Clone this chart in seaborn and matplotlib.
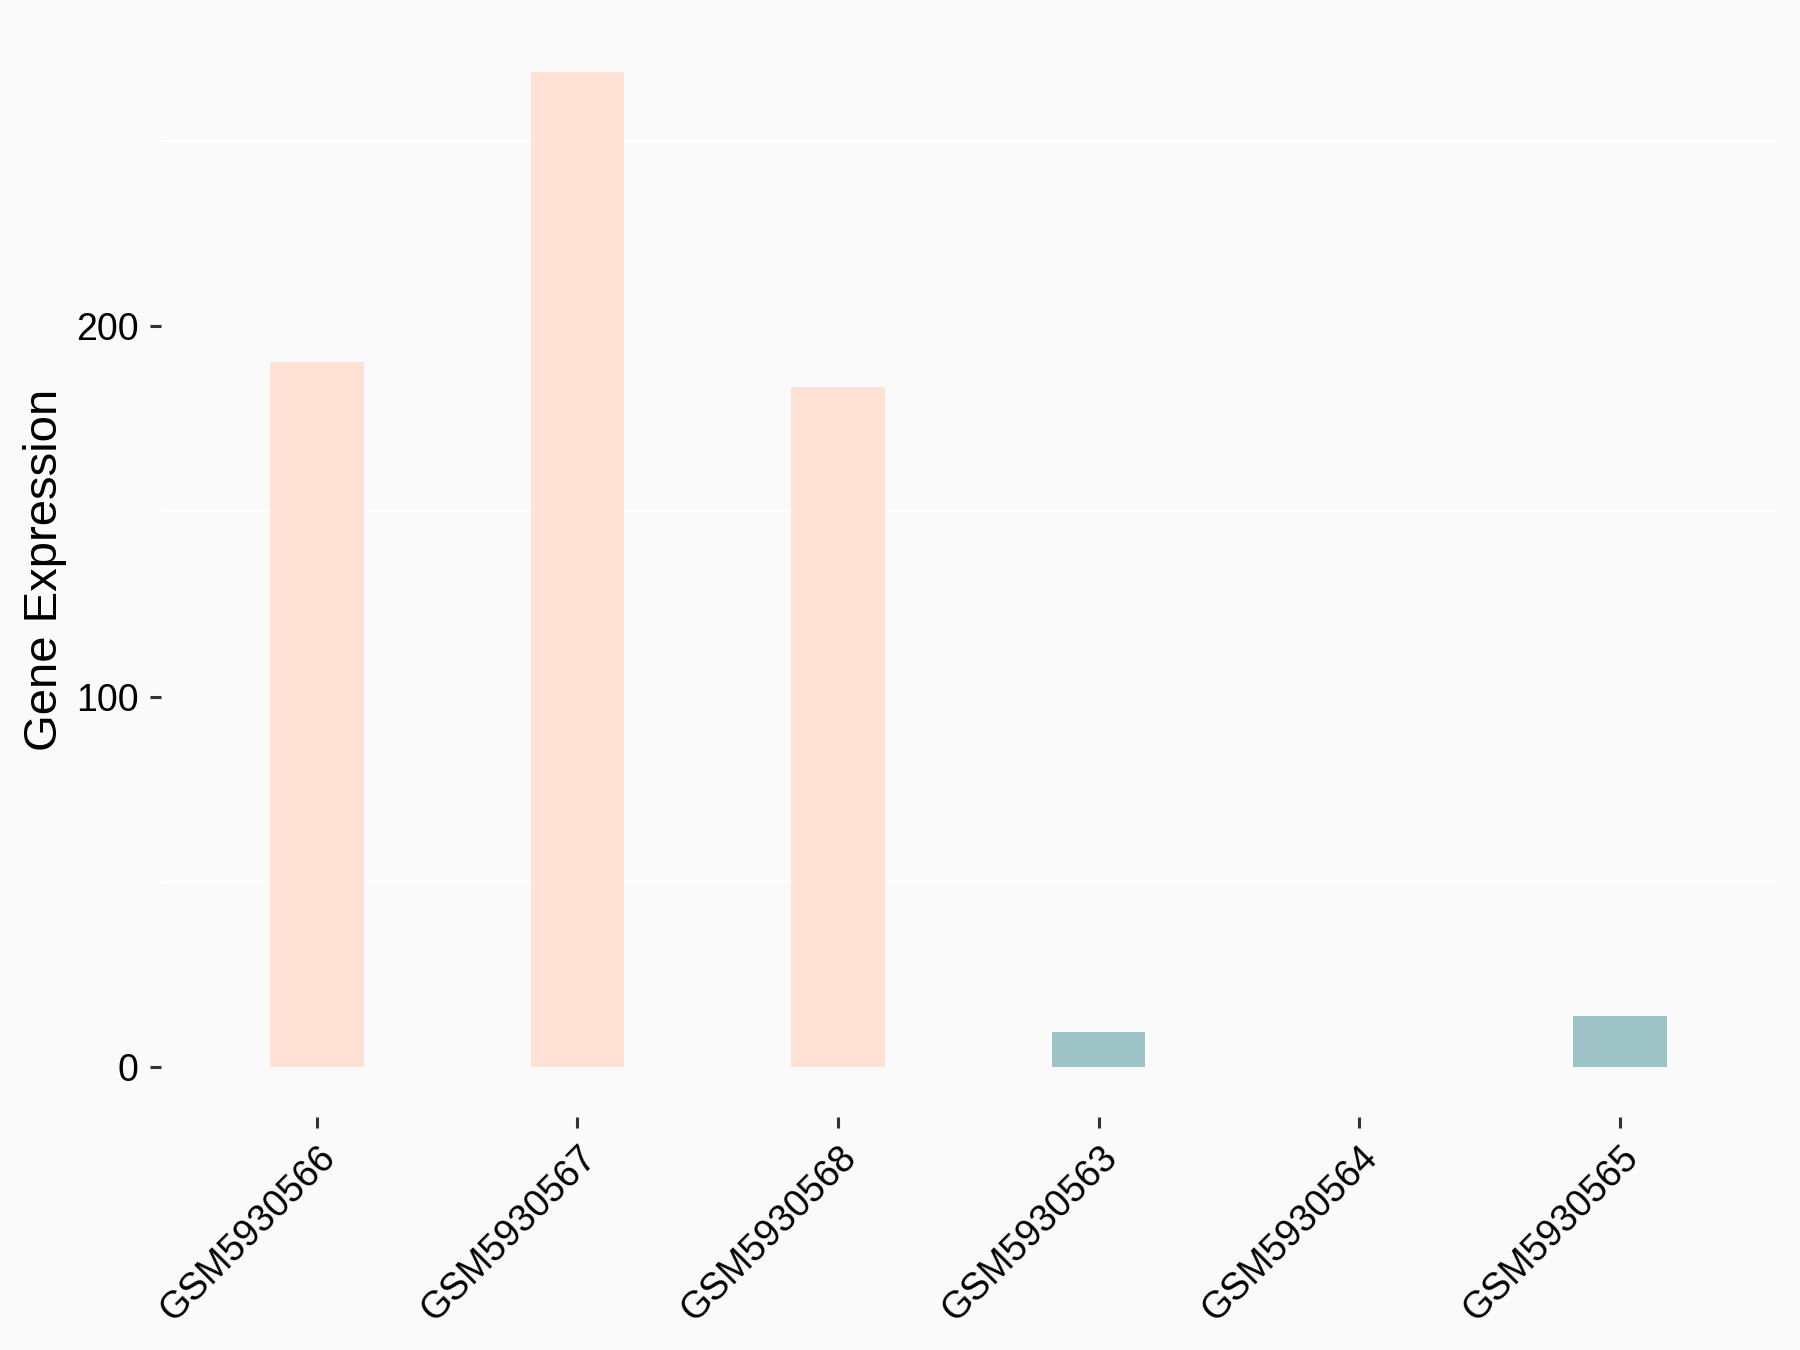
import matplotlib
matplotlib.use("Agg")
import matplotlib.pyplot as plt
import seaborn as sns
import pandas as pd
from matplotlib.ticker import MultipleLocator

samples = ["GSM5930566", "GSM5930567", "GSM5930568",
           "GSM5930563", "GSM5930564", "GSM5930565"]
expression = [190.4, 268.4, 183.6, 9.6, 0.0, 13.9]
groups = ["Treated", "Treated", "Treated", "Control", "Control", "Control"]
group_colors = {"Treated": "#FFE1D6", "Control": "#9DC3C7"}

df = pd.DataFrame({"sample": samples, "expr": expression, "group": groups})

sns.set_theme(style="white")
plt.rcParams["font.family"] = ["Liberation Sans", "DejaVu Sans"]
bg = "#FAFAFA"

fig = plt.figure(figsize=(18, 13.5), dpi=100, facecolor=bg)
ax = fig.add_axes([0.0892, 0.1726, 0.8975, 0.8106])
ax.set_facecolor(bg)

sns.barplot(data=df, x="sample", y="expr", hue="group", palette=group_colors,
            order=samples, dodge=False, width=0.36, legend=False,
            saturation=1, linewidth=0, ax=ax)

ymax = max(expression)
ax.set_ylim(-0.05 * ymax, 1.05 * ymax)
ax.set_xlim(-0.6, len(samples) - 0.4)
ax.yaxis.set_major_locator(MultipleLocator(100))
ax.yaxis.set_minor_locator(MultipleLocator(50))
ax.grid(False)
ax.grid(which="minor", axis="y", color="white", linewidth=1.6)
ax.set_axisbelow(True)
ax.yaxis.set_minor_formatter(plt.NullFormatter())
ax.tick_params(axis="y", which="minor", length=0)

for s in ax.spines.values():
    s.set_visible(False)

ax.tick_params(axis="both", which="major", direction="out", length=8,
               width=2.2, color="#333333", labelsize=27, labelcolor="black",
               pad=8, left=True, bottom=True)
plt.setp(ax.get_xticklabels(), rotation=45, ha="right", rotation_mode="anchor")

ax.set_xlabel("")
ax.set_ylabel("Gene Expression", fontsize=34, color="black")
ax.yaxis.set_label_coords(-0.058, 0.5)

fig.savefig("out.png", dpi=100, facecolor=bg)
